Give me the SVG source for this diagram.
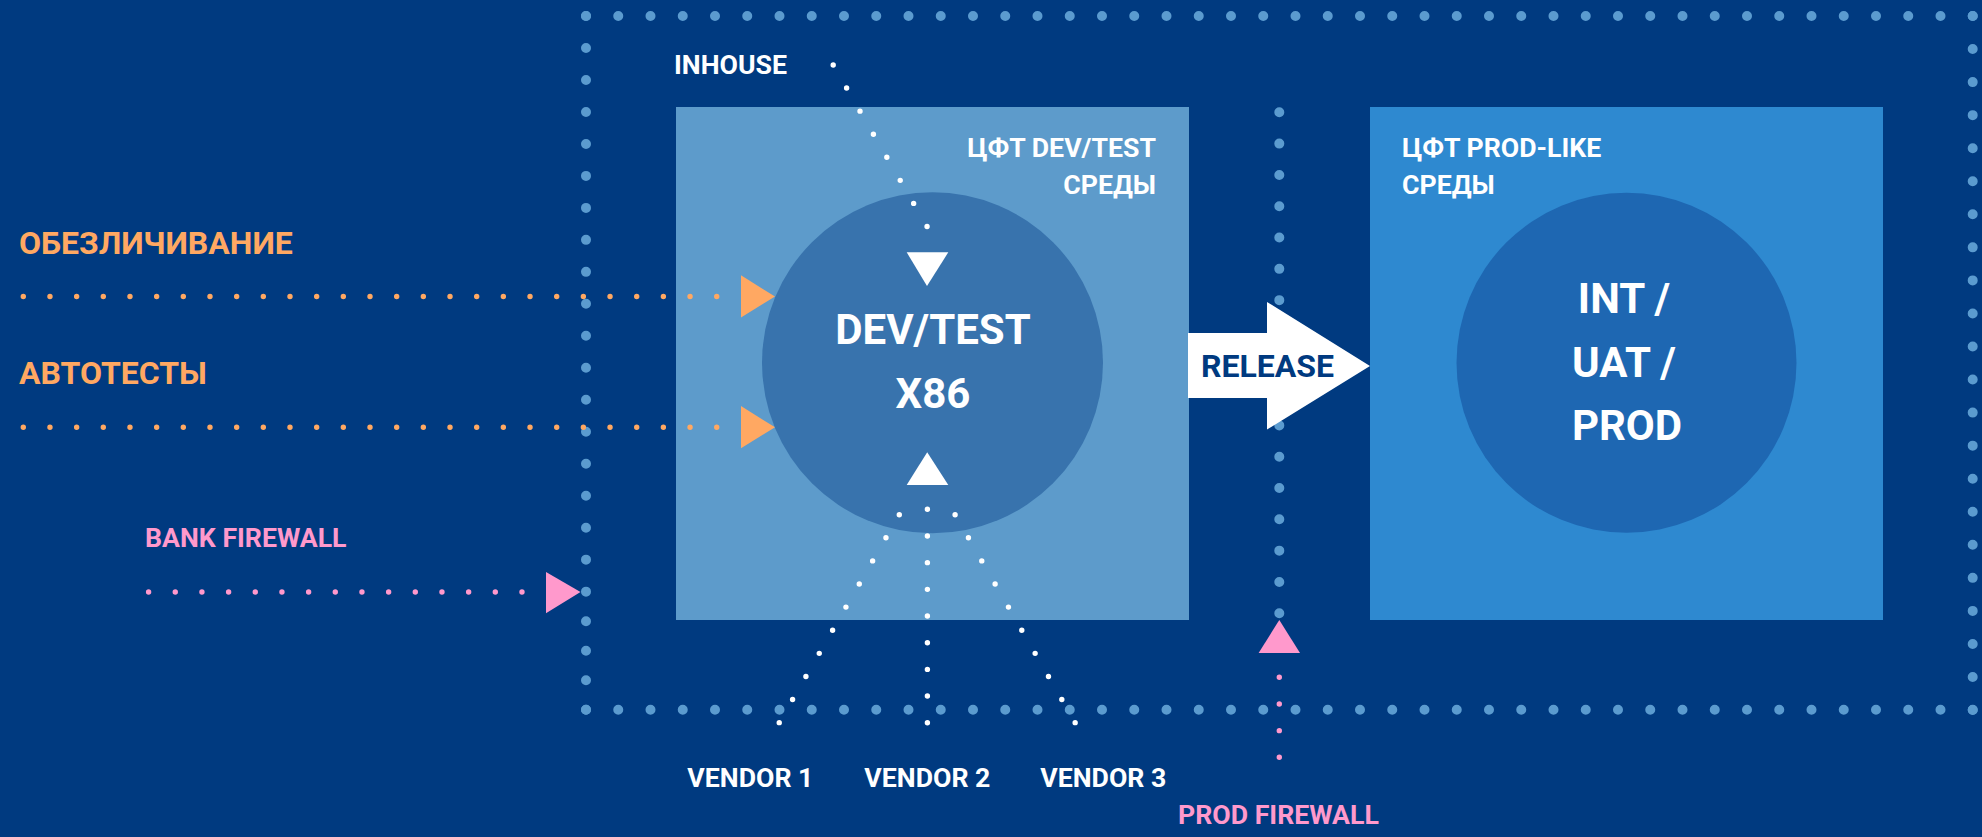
<svg xmlns="http://www.w3.org/2000/svg" width="1982" height="837" viewBox="0 0 1982 837">
  <style>
    .t { font-family: Roboto, "Noto Sans", "Liberation Sans", "Noto Sans CJK SC", sans-serif; font-weight: 700; }
    .w { fill: #ffffff; }
    .s { font-size: 26.7px; }
    .bd { fill: none; stroke: #5b9bcf; stroke-width: 10; stroke-linecap: round; }
    .wd { fill: none; stroke: #ffffff; stroke-width: 5.4; stroke-linecap: round; stroke-dasharray: 0 26.68; }
    .od { fill: none; stroke: #ffa862; stroke-width: 5.4; stroke-linecap: round; stroke-dasharray: 0 26.67; }
    .pd { fill: none; stroke: #ff99cc; stroke-width: 5.4; stroke-linecap: round; stroke-dasharray: 0 26.67; }
    .org { fill: #ffa862; }
    .pnk { fill: #ff99cc; }
  </style>
  <rect x="0" y="0" width="1982" height="837" fill="#003a80"/>

  <g id="border">
    <line class="bd" x1="586" y1="16" x2="1973" y2="16" stroke-dasharray="0 32.25"/>
    <line class="bd" x1="586" y1="709.7" x2="1973" y2="709.7" stroke-dasharray="0 32.25"/>
    <line class="bd" x1="1972.7" y1="16" x2="1972.7" y2="710.3" stroke-dasharray="0 33.05"/>
    <line class="bd" x1="586" y1="16" x2="586" y2="592" stroke-dasharray="0 31.98"/>
    <line class="bd" x1="586" y1="621.2" x2="586" y2="710" stroke-dasharray="0 29.5"/>
    <line class="bd" x1="1279.3" y1="112.3" x2="1279.3" y2="613.8" stroke-dasharray="0 31.31"/>
  </g>

  <g id="devtest">
    <rect x="676" y="107" width="513" height="513" fill="#5d9bcb"/>
    <circle cx="932.5" cy="362.8" r="170.5" fill="#3873ad"/>
    <text class="t w s" x="1156" y="157" text-anchor="end">ЦФТ DEV/TEST</text>
    <text class="t w s" x="1156" y="194" text-anchor="end">СРЕДЫ</text>
    <text class="t w" x="933" y="344" font-size="42" text-anchor="middle">DEV/TEST</text>
    <text class="t w" x="933" y="408" font-size="42" text-anchor="middle">X86</text>
  </g>

  <g id="prodlike">
    <rect x="1370" y="107" width="513" height="513" fill="#2e89d0"/>
    <circle cx="1626.5" cy="362.8" r="170" fill="#1e67b2"/>
    <text class="t w s" x="1402" y="157">ЦФТ PROD-LIKE</text>
    <text class="t w s" x="1402" y="194">СРЕДЫ</text>
    <text class="t w" x="1624" y="312.7" font-size="42" text-anchor="middle">INT /</text>
    <text class="t w" x="1624" y="376.7" font-size="42" text-anchor="middle">UAT /</text>
    <text class="t w" x="1627" y="440" font-size="42" text-anchor="middle">PROD</text>
  </g>

  <g id="inhouse">
    <text class="t w s" x="674" y="74">INHOUSE</text>
  </g>
  <g id="obezl">
    <text class="t" x="19" y="254" font-size="32" fill="#ffa862">ОБЕЗЛИЧИВАНИЕ</text>
  </g>
  <g id="autotests">
    <text class="t" x="19" y="384" font-size="32" fill="#ffa862">АВТОТЕСТЫ</text>
  </g>
  <g id="bankfw">
    <text class="t s" x="145" y="546.7" fill="#ff99cc">BANK FIREWALL</text>
  </g>
  <g id="prodfw">
    <text class="t s" x="1178" y="824" fill="#ff99cc">PROD FIREWALL</text>
  </g>
  <g id="vendor1">
    <text class="t w s" x="750.4" y="787.3" text-anchor="middle">VENDOR 1</text>
  </g>
  <g id="vendor2">
    <text class="t w s" x="927.4" y="787.3" text-anchor="middle">VENDOR 2</text>
  </g>
  <g id="vendor3">
    <text class="t w s" x="1103.3" y="787.3" text-anchor="middle">VENDOR 3</text>
  </g>

  <g id="connectors">
    <!-- inhouse -->
    <line class="wd" x1="833.2" y1="65" x2="927.3" y2="226.9"/>
    <polygon fill="#ffffff" points="906.7,252.3 948.3,252.3 927,286"/>
    <!-- vendors -->
    <line class="wd" x1="927.4" y1="509.3" x2="927.4" y2="723" stroke-dasharray="0 26.67"/>
    <line class="wd" x1="899.3" y1="514.7" x2="779.1" y2="722.9"/>
    <line class="wd" x1="955.1" y1="514.7" x2="1075.3" y2="722.9"/>
    <polygon fill="#ffffff" points="927.2,452.3 906.7,485 948.3,485"/>
    <!-- obezl / autotests -->
    <line class="od" x1="23.3" y1="296.5" x2="717.3" y2="296.5"/>
    <polygon class="org" points="741,275.3 775,296.5 741,317.5"/>
    <line class="od" x1="23.3" y1="427.3" x2="717.3" y2="427.3"/>
    <polygon class="org" points="741,406 775,427.3 741,448.3"/>
    <!-- bank firewall -->
    <line class="pd" x1="148.6" y1="592" x2="522.3" y2="592"/>
    <polygon class="pnk" points="546,572 580.5,592 546,613.3"/>
    <!-- prod firewall -->
    <polygon class="pnk" points="1279.3,620 1258.6,653 1300,653"/>
    <line class="pd" x1="1279.3" y1="677.3" x2="1279.3" y2="757.6"/>
    <!-- release -->
    <g id="release">
      <polygon fill="#ffffff" points="1188,333 1267,333 1267,302 1370,366 1267,429.5 1267,398 1188,398"/>
      <text class="t" x="1201" y="376.6" font-size="32" fill="#003a80">RELEASE</text>
    </g>
  </g>
</svg>
